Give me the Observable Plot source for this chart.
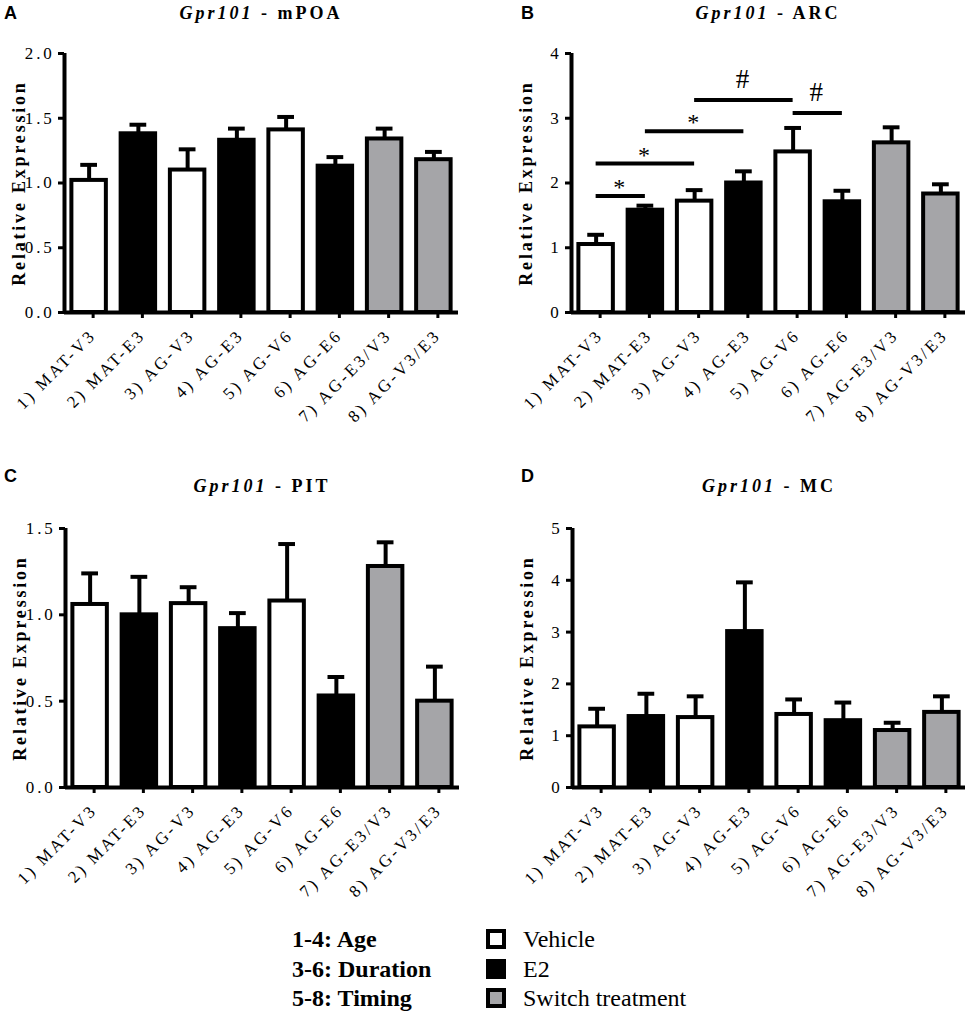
<!DOCTYPE html>
<html>
<head>
<meta charset="utf-8">
<script src="https://cdn.jsdelivr.net/npm/d3@7"></script>
<script src="https://cdn.jsdelivr.net/npm/@observablehq/plot@0.6"></script>
<style>
  body { margin: 0; background: #fff; }
  #root { position: relative; width: 965px; height: 1016px; overflow: hidden; font-family: "Liberation Serif", "Times New Roman", serif; color: #000; }
  .letter { position: absolute; font-family: "Liberation Sans", Arial, sans-serif; font-weight: bold; font-size: 18px; line-height: 18px; }
  .title { position: absolute; font-weight: bold; font-size: 18px; line-height: 18px; letter-spacing: 3px; white-space: nowrap; transform: translateX(-50%); }
  .title i { font-style: italic; }
  .panel { position: absolute; }
  .panel svg { overflow: visible; }
  .legL { position: absolute; font-weight: bold; font-size: 24px; line-height: 29.5px; white-space: nowrap; }
  .legR { position: absolute; font-size: 24px; line-height: 29.5px; white-space: nowrap; }
  .legR .row { position: relative; height: 29.5px; padding-left: 37px; }
  .legR .sw { position: absolute; left: 0; top: 4px; width: 12px; height: 12px; border: 4px solid #000; }
</style>
</head>
<body>
<div id="root"></div>
<script>
// ---- data ----
const groups = ["1) MAT-V3", "2) MAT-E3", "3) AG-V3", "4) AG-E3", "5) AG-V6", "6) AG-E6", "7) AG-E3/V3", "8) AG-V3/E3"];
const treatment = ["Vehicle", "E2", "Vehicle", "E2", "Vehicle", "E2", "Switch", "Switch"];

const mpoaMean = [1.02, 1.38, 1.10, 1.33, 1.41, 1.13, 1.34, 1.18];
const mpoaSem  = [0.12, 0.07, 0.16, 0.09, 0.10, 0.07, 0.08, 0.06];

const arcMean = [1.05, 1.58, 1.72, 2.00, 2.48, 1.71, 2.62, 1.83];
const arcSem  = [0.15, 0.07, 0.17, 0.18, 0.37, 0.17, 0.24, 0.15];

const pitMean = [1.06, 1.00, 1.065, 0.92, 1.08, 0.53, 1.28, 0.50];
const pitSem  = [0.18, 0.22, 0.095, 0.09, 0.33, 0.11, 0.14, 0.20];

const mcMean = [1.17, 1.37, 1.35, 3.01, 1.41, 1.29, 1.10, 1.45];
const mcSem  = [0.35, 0.44, 0.41, 0.95, 0.29, 0.35, 0.15, 0.31];

const arcSigFrom  = [1, 1, 2, 3, 5];
const arcSigTo    = [2, 3, 4, 5, 6];
const arcSigY     = [1.8, 2.3, 2.8, 3.28, 3.08];
const arcSigLabel = ["*", "*", "*", "#", "#"];

const mpoaTicks = [0, 0.5, 1.0, 1.5, 2.0];
const arcTicks = [0, 1, 2, 3, 4];
const pitTicks = [0, 0.5, 1.0, 1.5];
const mcTicks = [0, 1, 2, 3, 4, 5];

const treatmentKeys = ["Vehicle", "E2", "Switch"];
const treatmentColors = ["#ffffff", "#000000", "#a5a5a8"];
const legendNotes = ["1-4: Age", "3-6: Duration", "5-8: Timing"];
const legendLabels = ["Vehicle", "E2", "Switch treatment"];

const yLabel = "Relative Expression";

// ---- layout ----
const root = document.getElementById("root");

function addPanel({letter, region, mean, sem, ticks, fmt, top, svgLeft, marginLeft, width, sig, letterX, letterY, titleY}) {
  const data = groups.map((g, k) => ({i: k + 1, g, t: treatment[k], m: mean[k], s: sem[k]}));
  const marks = [
    Plot.ruleX(data, {x: "i", y1: "m", y2: d => d.m + d.s, stroke: "#000", strokeWidth: 4}),
    Plot.ruleY(data, {x1: d => d.i - 0.17, x2: d => d.i + 0.17, y: d => d.m + d.s, stroke: "#000", strokeWidth: 4}),
    Plot.rectY(data, {x1: d => d.i - 0.35, x2: d => d.i + 0.35, y1: 0, y2: "m", fill: "t", stroke: "#000", strokeWidth: 4}),
    Plot.axisY({ticks, tickFormat: fmt, tickSize: 6, tickPadding: 4, strokeWidth: 3, label: null}),
    Plot.axisX({ticks: d3.range(1, groups.length + 1), tickFormat: i => groups[i - 1], tickSize: 6, tickPadding: 14, dx: 4, strokeWidth: 3, tickRotate: -45, label: null}),
    Plot.ruleX([0.5], {stroke: "#000", strokeWidth: 4}),
    Plot.ruleY([0], {stroke: "#000", strokeWidth: 4}),
    Plot.text([yLabel], {frameAnchor: "left", textAnchor: "middle", rotate: -90, dx: -45, fontWeight: "bold", fontSize: 18, ariaLabel: "ylabel"})
  ];
  if (sig) {
    marks.push(Plot.ruleY(sig, {x1: "from", x2: "to", y: "y", stroke: "#000", strokeWidth: 4}));
    marks.push(Plot.text(sig, {filter: d => d.label === "*", x: d => (d.from + d.to) / 2, y: "y", text: "label", lineAnchor: "bottom", dy: -1, fontSize: 24}));
    marks.push(Plot.text(sig, {filter: d => d.label === "#", x: d => (d.from + d.to) / 2, y: "y", text: "label", lineAnchor: "bottom", dy: -12, fontSize: 27}));
  }
  const chart = Plot.plot({
    width, height: 380,
    marginLeft, marginRight: width - marginLeft - 394, marginTop: 13, marginBottom: 108,
    x: {type: "linear", domain: [0.5, groups.length + 0.5]},
    y: {domain: [0, ticks[ticks.length - 1]]},
    color: {domain: treatmentKeys, range: treatmentColors},
    style: {fontFamily: "'Liberation Serif', 'Times New Roman', serif", fontSize: "17px", letterSpacing: "2.8px", color: "#000", overflow: "visible", background: "transparent"},
    marks
  });
  chart.querySelectorAll('g[aria-label="ylabel"] text').forEach(t => t.style.letterSpacing = "3.2px");
  const div = document.createElement("div");
  div.className = "panel";
  div.style.left = svgLeft + "px";
  div.style.top = top + "px";
  div.appendChild(chart);
  root.appendChild(div);

  const L = document.createElement("div");
  L.className = "letter";
  L.textContent = letter;
  L.style.left = letterX + "px";
  L.style.top = letterY + "px";
  root.appendChild(L);

  const T = document.createElement("div");
  T.className = "title";
  T.innerHTML = "<i>Gpr101</i> - " + region;
  T.style.left = (svgLeft + marginLeft + 197) + "px";
  T.style.top = titleY + "px";
  root.appendChild(T);
}

const sig = arcSigFrom.map((f, k) => ({from: f, to: arcSigTo[k], y: arcSigY[k], label: arcSigLabel[k]}));

addPanel({letter: "A", region: "mPOA", mean: mpoaMean, sem: mpoaSem, ticks: mpoaTicks, fmt: d3.format(".1f"),
  svgLeft: 0, top: 40, marginLeft: 64, width: 480, letterX: 4, letterY: 4, titleY: 4});
addPanel({letter: "B", region: "ARC", mean: arcMean, sem: arcSem, ticks: arcTicks, fmt: d3.format("d"), sig,
  svgLeft: 480, top: 40, marginLeft: 91, width: 485, letterX: 521, letterY: 4, titleY: 4});
addPanel({letter: "C", region: "PIT", mean: pitMean, sem: pitSem, ticks: pitTicks, fmt: d3.format(".1f"),
  svgLeft: 0, top: 515, marginLeft: 65, width: 480, letterX: 4, letterY: 467, titleY: 477});
addPanel({letter: "D", region: "MC", mean: mcMean, sem: mcSem, ticks: mcTicks, fmt: d3.format("d"),
  svgLeft: 480, top: 515, marginLeft: 92, width: 485, letterX: 521, letterY: 467, titleY: 477});

// ---- legend ----
const legL = document.createElement("div");
legL.className = "legL";
legL.style.left = "292px";
legL.style.top = "925px";
legL.innerHTML = legendNotes.join("<br>");
root.appendChild(legL);

const legR = document.createElement("div");
legR.className = "legR";
legR.style.left = "486px";
legR.style.top = "925px";
legendLabels.forEach((lab, k) => {
  const row = document.createElement("div");
  row.className = "row";
  const sw = document.createElement("span");
  sw.className = "sw";
  sw.style.background = treatmentColors[k];
  row.appendChild(sw);
  row.appendChild(document.createTextNode(lab));
  legR.appendChild(row);
});
root.appendChild(legR);
</script>
</body>
</html>
